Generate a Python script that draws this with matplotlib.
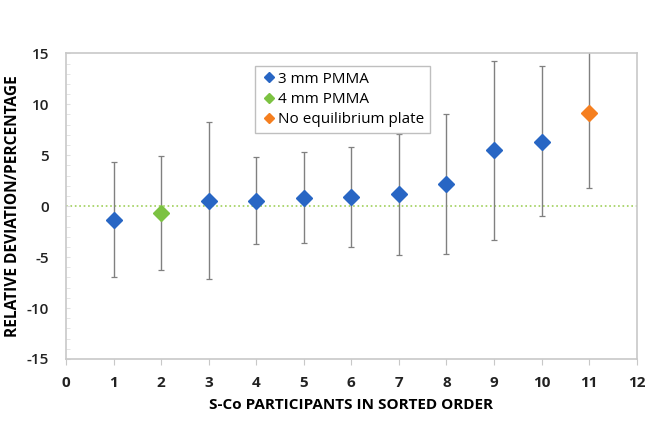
import numpy as np
import matplotlib.pyplot as plt
from matplotlib.ticker import MultipleLocator

# participants in sorted order
x_3mm = [1, 3, 4, 5, 6, 7, 8, 9, 10]
y_3mm = [-1.35, 0.51, 0.54, 0.84, 0.9, 1.2, 2.15, 5.48, 6.33]
lo_3mm = [-6.92, -7.11, -3.71, -3.58, -4.04, -4.79, -4.72, -3.32, -0.96]
hi_3mm = [4.31, 8.26, 4.8, 5.29, 5.78, 7.05, 9.02, 14.25, 13.73]

x_4mm = [2]
y_4mm = [-0.67]
lo_4mm = [-6.29]
hi_4mm = [4.96]

x_noeq = [11]
y_noeq = [9.12]
lo_noeq = [1.79]
hi_noeq = [16.45]

series = [
    ('3 mm PMMA', x_3mm, y_3mm, lo_3mm, hi_3mm, '#2866c4'),
    ('4 mm PMMA', x_4mm, y_4mm, lo_4mm, hi_4mm, '#7cc242'),
    ('No equilibrium plate', x_noeq, y_noeq, lo_noeq, hi_noeq, '#f57f20'),
]

plt.rcParams['font.family'] = ['Open Sans', 'DejaVu Sans']
plt.rcParams['axes.unicode_minus'] = False

fig = plt.figure(figsize=(6.63, 4.37), dpi=100)
ax = fig.add_axes([0.0995, 0.1785, 0.8608, 0.6995])

ax.axhline(0, color='#9fd05a', linestyle=':', linewidth=1.2, zorder=1)

for name, xs, ys, lo, hi, col in series:
    ys = np.array(ys)
    err = [ys - np.array(lo), np.array(hi) - ys]
    ax.errorbar(xs, ys, yerr=err, fmt='none', ecolor='#808080', elinewidth=1.0,
                capsize=2, capthick=0.9, zorder=2)
    ax.plot(xs, ys, linestyle='none', marker='D', markersize=8.5, color=col,
            label=name, zorder=3)

ax.set_xlim(0, 12)
ax.set_ylim(-15, 15)
ax.xaxis.set_major_locator(MultipleLocator(1))
ax.yaxis.set_major_locator(MultipleLocator(5))
ax.yaxis.set_minor_locator(MultipleLocator(1))

for s in ax.spines.values():
    s.set_color('#c8c8c8')
    s.set_linewidth(1.2)

ax.tick_params(axis='x', direction='out', length=4, color='#c8c8c8', labelsize=11, pad=8)
ax.tick_params(axis='y', which='major', direction='in', length=3, color='#e0e0e0', labelsize=11, pad=12)
ax.tick_params(axis='y', which='minor', direction='in', length=3, color='#e0e0e0')
for lab in ax.get_xticklabels():
    lab.set_fontweight('bold')
    lab.set_color('#222222')
for lab in ax.get_yticklabels():
    lab.set_fontweight('semibold')
    lab.set_color('#222222')

ax.set_xlabel('S-Co PARTICIPANTS IN SORTED ORDER', fontsize=11, fontweight='bold', labelpad=6)
ax.set_ylabel('RELATIVE DEVIATION/PERCENTAGE', fontsize=11.2, fontweight='bold', labelpad=4)

leg = ax.legend(loc='upper left', bbox_to_anchor=(0.318, 0.985), fontsize=11,
                markerscale=0.55, handletextpad=0.1, handlelength=1.0,
                borderpad=0.4, labelspacing=0.35, fancybox=False, framealpha=1)
leg.get_frame().set_edgecolor('#bfbfbf')

plt.savefig('out.png')
plt.close()
